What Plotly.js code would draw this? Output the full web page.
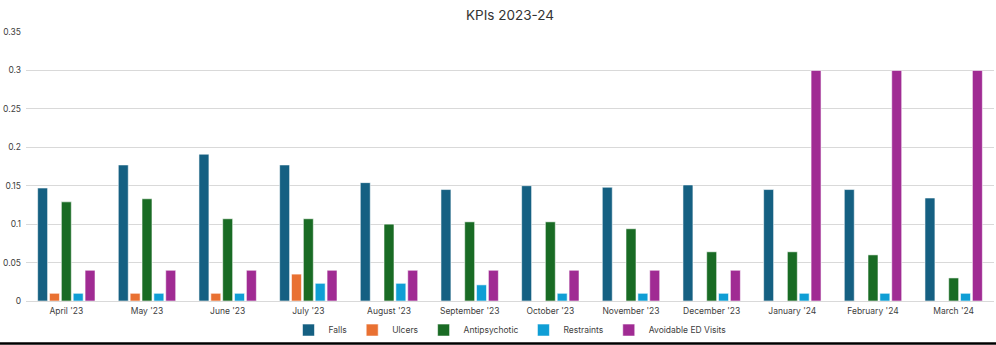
<!DOCTYPE html>
<html>
<head>
<meta charset="utf-8">
<script src="https://cdn.plot.ly/plotly-3.0.1.min.js"></script>
<style>html,body{margin:0;padding:0;background:#fff;}#chart{width:996px;height:345px;}</style>
</head>
<body>
<div id="chart"></div>
<script>
const months = ["April '23","May '23","June '23","July '23","August '23","September '23","October '23","November '23","December '23","January '24","February '24","March '24"];
const falls = [0.147,0.177,0.191,0.177,0.154,0.145,0.150,0.148,0.151,0.145,0.145,0.134];
const ulcers = [0.01,0.01,0.01,0.035,0,0,0,0,0,0,0,0];
const antipsychotic = [0.129,0.133,0.107,0.107,0.100,0.103,0.103,0.094,0.064,0.064,0.060,0.030];
const restraints = [0.01,0.01,0.01,0.023,0.023,0.021,0.01,0.01,0.01,0.01,0.01,0.01];
const avoidableED = [0.04,0.04,0.04,0.04,0.04,0.04,0.04,0.04,0.04,0.3,0.3,0.3];
const seriesNames = ["Falls","Ulcers","Antipsychotic","Restraints","Avoidable ED Visits"];
const seriesColors = ["#156082","#E97132","#196B24","#0F9ED5","#A02B93"];
const seriesData = [falls, ulcers, antipsychotic, restraints, avoidableED];

const traces = seriesData.map((vals, i) => ({
  type: 'bar',
  name: seriesNames[i],
  x: months,
  y: vals,
  marker: {color: seriesColors[i], line: {color: 'rgba(255,255,255,0.7)', width: 0.8}},
  hoverinfo: 'x+y+name'
}));

const layout = {
  width: 996, height: 345,
  margin: {l: 26, r: 2, t: 32, b: 44, pad: 0, autoexpand: false},
  paper_bgcolor: '#ffffff', plot_bgcolor: '#ffffff',
  font: {family: 'Inter, "Liberation Sans", Arial, sans-serif', color: '#404040', size: 9},
  title: {text: 'KPIs 2023-24', x: 0.5, xref: 'paper', xanchor: 'center', y: 0.957, yanchor: 'middle', font: {size: 13.5, color: '#333333'}},
  barmode: 'group',
  bargap: 0.265,
  bargroupgap: 0.16,
  xaxis: {
    type: 'category', showgrid: false, showline: false, zeroline: false,
    ticks: '', tickfont: {size: 8.5, color: '#404040'}, ticklabelstandoff: 3
  },
  yaxis: {
    range: [0, 0.35], dtick: 0.05, tick0: 0, showgrid: true, gridcolor: '#D9D9D9', gridwidth: 1,
    zeroline: true, zerolinecolor: '#D9D9D9', zerolinewidth: 1, showline: false,
    ticks: '', tickfont: {size: 8.5, color: '#404040'}, ticklabelstandoff: 4
  },
  legend: {
    orientation: 'h', x: 0.5, xanchor: 'center', y: -0.108, yanchor: 'middle',
    bgcolor: 'rgba(0,0,0,0)',
    font: {size: 8.5, color: '#404040'}, itemwidth: 30, tracegroupgap: 0
  },
  shapes: [{
    type: 'line', xref: 'paper', yref: 'paper',
    x0: -26/968, x1: 970/968, y0: -(343.5-301)/269, y1: -(343.5-301)/269,
    line: {color: '#000000', width: 2.5}
  }],
  showlegend: true
};

Plotly.newPlot('chart', traces, layout, {displayModeBar: false, staticPlot: true});
</script>
</body>
</html>
